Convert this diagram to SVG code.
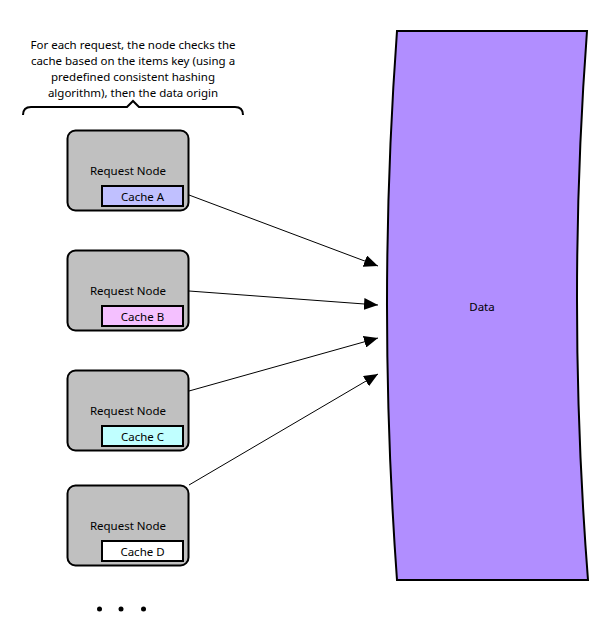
<svg xmlns="http://www.w3.org/2000/svg" width="609" height="633" viewBox="0 0 609 633">
<style>
text{font-family:"Noto Sans","Open Sans","DejaVu Sans",sans-serif;font-size:11.5px;fill:#000;text-anchor:middle}
.node{fill:#c0c0c0;stroke:#000;stroke-width:2}
.cache{stroke:#000;stroke-width:2}
.conn{stroke:#000;stroke-width:1;fill:none;marker-end:url(#arr)}
</style>
<defs>
<marker id="arr" viewBox="0 0 14 12" refX="14" refY="6" markerWidth="14" markerHeight="12" markerUnits="userSpaceOnUse" orient="auto">
<path d="M0,0 L14,6 L0,12 Z" fill="#000"/>
</marker>
</defs>
<g id="note">
<text x="133" y="49">For each request, the node checks the</text>
<text x="133" y="65">cache based on the items key (using a</text>
<text x="133" y="81">predefined consistent hashing</text>
<text x="133" y="97">algorithm), then the data origin</text>
<path d="M23,115 Q23,107 31,107 L127,107 L133,101 L139,107 L235,107 Q243,107 243,115" fill="none" stroke="#000" stroke-width="2"/>
</g>
<g id="data">
<path d="M397,31 L587,31 Q566.5,305 588,580 L397,580 Q377,305 397,31 Z" fill="#b18eff" stroke="#000" stroke-width="2"/>
<text x="482" y="311">Data</text>
</g>
<g id="node1">
<rect class="node" x="67.5" y="130.5" width="121" height="80" rx="8"/>
<text x="128" y="175">Request Node</text>
<rect class="cache" x="102" y="186" width="81" height="20" fill="#c0c0ff"/>
<text x="142.5" y="200.5">Cache A</text>
</g>
<g id="node2">
<rect class="node" x="67.5" y="250.5" width="121" height="80" rx="8"/>
<text x="128" y="295">Request Node</text>
<rect class="cache" x="102" y="306" width="81" height="20" fill="#f4c0ff"/>
<text x="142.5" y="320.5">Cache B</text>
</g>
<g id="node3">
<rect class="node" x="67.5" y="370.5" width="121" height="80" rx="8"/>
<text x="128" y="415">Request Node</text>
<rect class="cache" x="102" y="426" width="81" height="20" fill="#c0ffff"/>
<text x="142.5" y="440.5">Cache C</text>
</g>
<g id="node4">
<rect class="node" x="67.5" y="485.5" width="121" height="80" rx="8"/>
<text x="128" y="530">Request Node</text>
<rect class="cache" x="102" y="541" width="81" height="20" fill="#ffffff"/>
<text x="142.5" y="555.5">Cache D</text>
</g>
<g id="connectors">
<line class="conn" x1="189" y1="195" x2="378" y2="266"/>
<line class="conn" x1="189" y1="291" x2="378" y2="305"/>
<line class="conn" x1="189" y1="391" x2="378" y2="338"/>
<line class="conn" x1="189" y1="485" x2="378" y2="374"/>
</g>
<g id="ellipsis" fill="#000">
<circle cx="99.5" cy="609" r="2.5"/>
<circle cx="121" cy="609" r="2.5"/>
<circle cx="143.5" cy="609" r="2.5"/>
</g>
</svg>
